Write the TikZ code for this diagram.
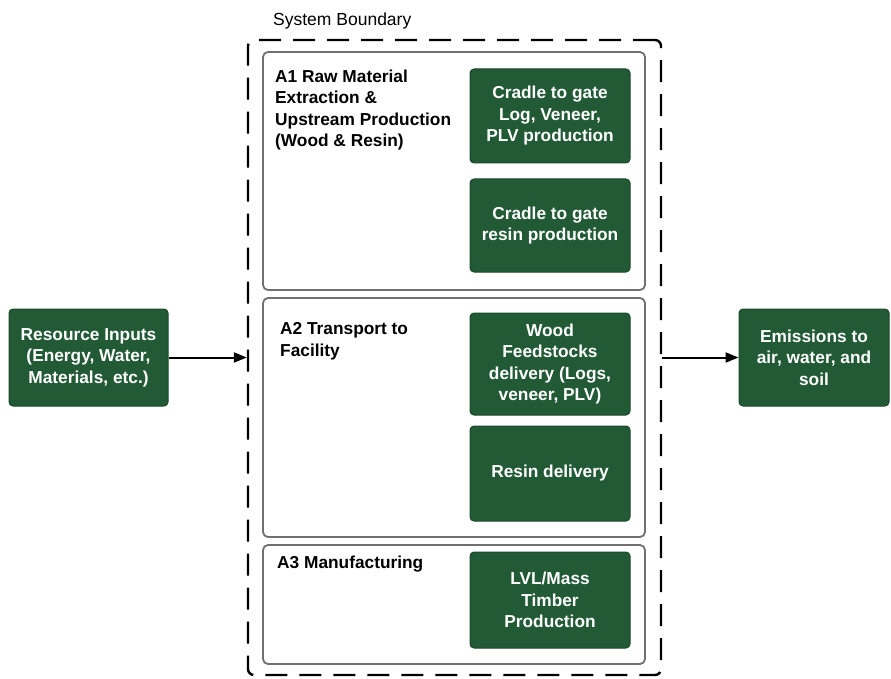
\documentclass[tikz,border=0pt]{standalone}
\usepackage{fontspec}
\setmainfont{Liberation Sans}
\usetikzlibrary{arrows.meta}
\definecolor{dgreen}{HTML}{225A35}
\definecolor{sgray}{HTML}{707070}
\begin{document}
\begin{tikzpicture}[x=1pt,y=-1pt,
  gbox/.style={draw=dgreen!80!black, line width=1pt, fill=dgreen, rounded corners=4pt, text=white,
    font=\bfseries\fontsize{17.3}{21.5}\selectfont, align=center, inner sep=0pt},
  secbox/.style={draw=sgray, line width=1.8pt, rounded corners=5pt, inner sep=0pt},
  seclabel/.style={anchor=north west, align=left, inner sep=0pt, font=\bfseries\fontsize{17.3}{21.5}\selectfont},
  arr/.style={line width=2pt, -{Triangle[length=13pt,width=10pt]}}
]
\useasboundingbox (0,0) rectangle (891,679);
% system boundary
\node[draw=black, line width=2.4pt, dash pattern=on 22pt off 12pt, rounded corners=6pt,
  minimum width=413, minimum height=635, inner sep=0pt] (sb) at (454.5,357.5) {};
\node[anchor=base west, inner sep=0pt, font=\fontsize{17.5}{20}\selectfont] (sbl) at (273,26) {System Boundary};
% section boxes
\node[secbox, minimum width=382, minimum height=238] (a1) at (454,171) {};
\node[secbox, minimum width=382, minimum height=239] (a2) at (454,417.5) {};
\node[secbox, minimum width=382, minimum height=119] (a3) at (454,604.5) {};
\node[seclabel] (a1l) at (275,69.5) {A1 Raw Material\\Extraction \&\\Upstream Production\\(Wood \& Resin)};
\node[seclabel] (a2l) at (280,322.5) {A2 Transport to\\Facility};
\node[seclabel] (a3l) at (277,556) {A3 Manufacturing};
% green boxes
\node[gbox, minimum width=160, minimum height=94] (c1) at (550,116) {Cradle to gate\\Log, Veneer,\\PLV production};
\node[gbox, minimum width=160, minimum height=93] (c2) at (550,225.5) {Cradle to gate\\resin production};
\node[gbox, minimum width=160, minimum height=102] (c3) at (550,364) {Wood\\Feedstocks\\delivery (Logs,\\veneer, PLV)};
\node[gbox, minimum width=160, minimum height=95] (c4) at (550,473.5) {Resin delivery};
\node[gbox, minimum width=160, minimum height=96] (c5) at (550,600) {LVL/Mass\\Timber\\Production};
\node[gbox, minimum width=159, minimum height=97] (ri) at (88.5,357.5) {Resource Inputs\\(Energy, Water,\\Materials, etc.)};
\node[gbox, minimum width=150, minimum height=97] (em) at (814,357.5) {Emissions to\\air, water, and\\soil};
% arrows
\draw[arr] (ri.east) -- (ri.east -| sb.west);
\draw[arr] (em.west -| sb.east) -- (em.west);
\end{tikzpicture}
\end{document}
